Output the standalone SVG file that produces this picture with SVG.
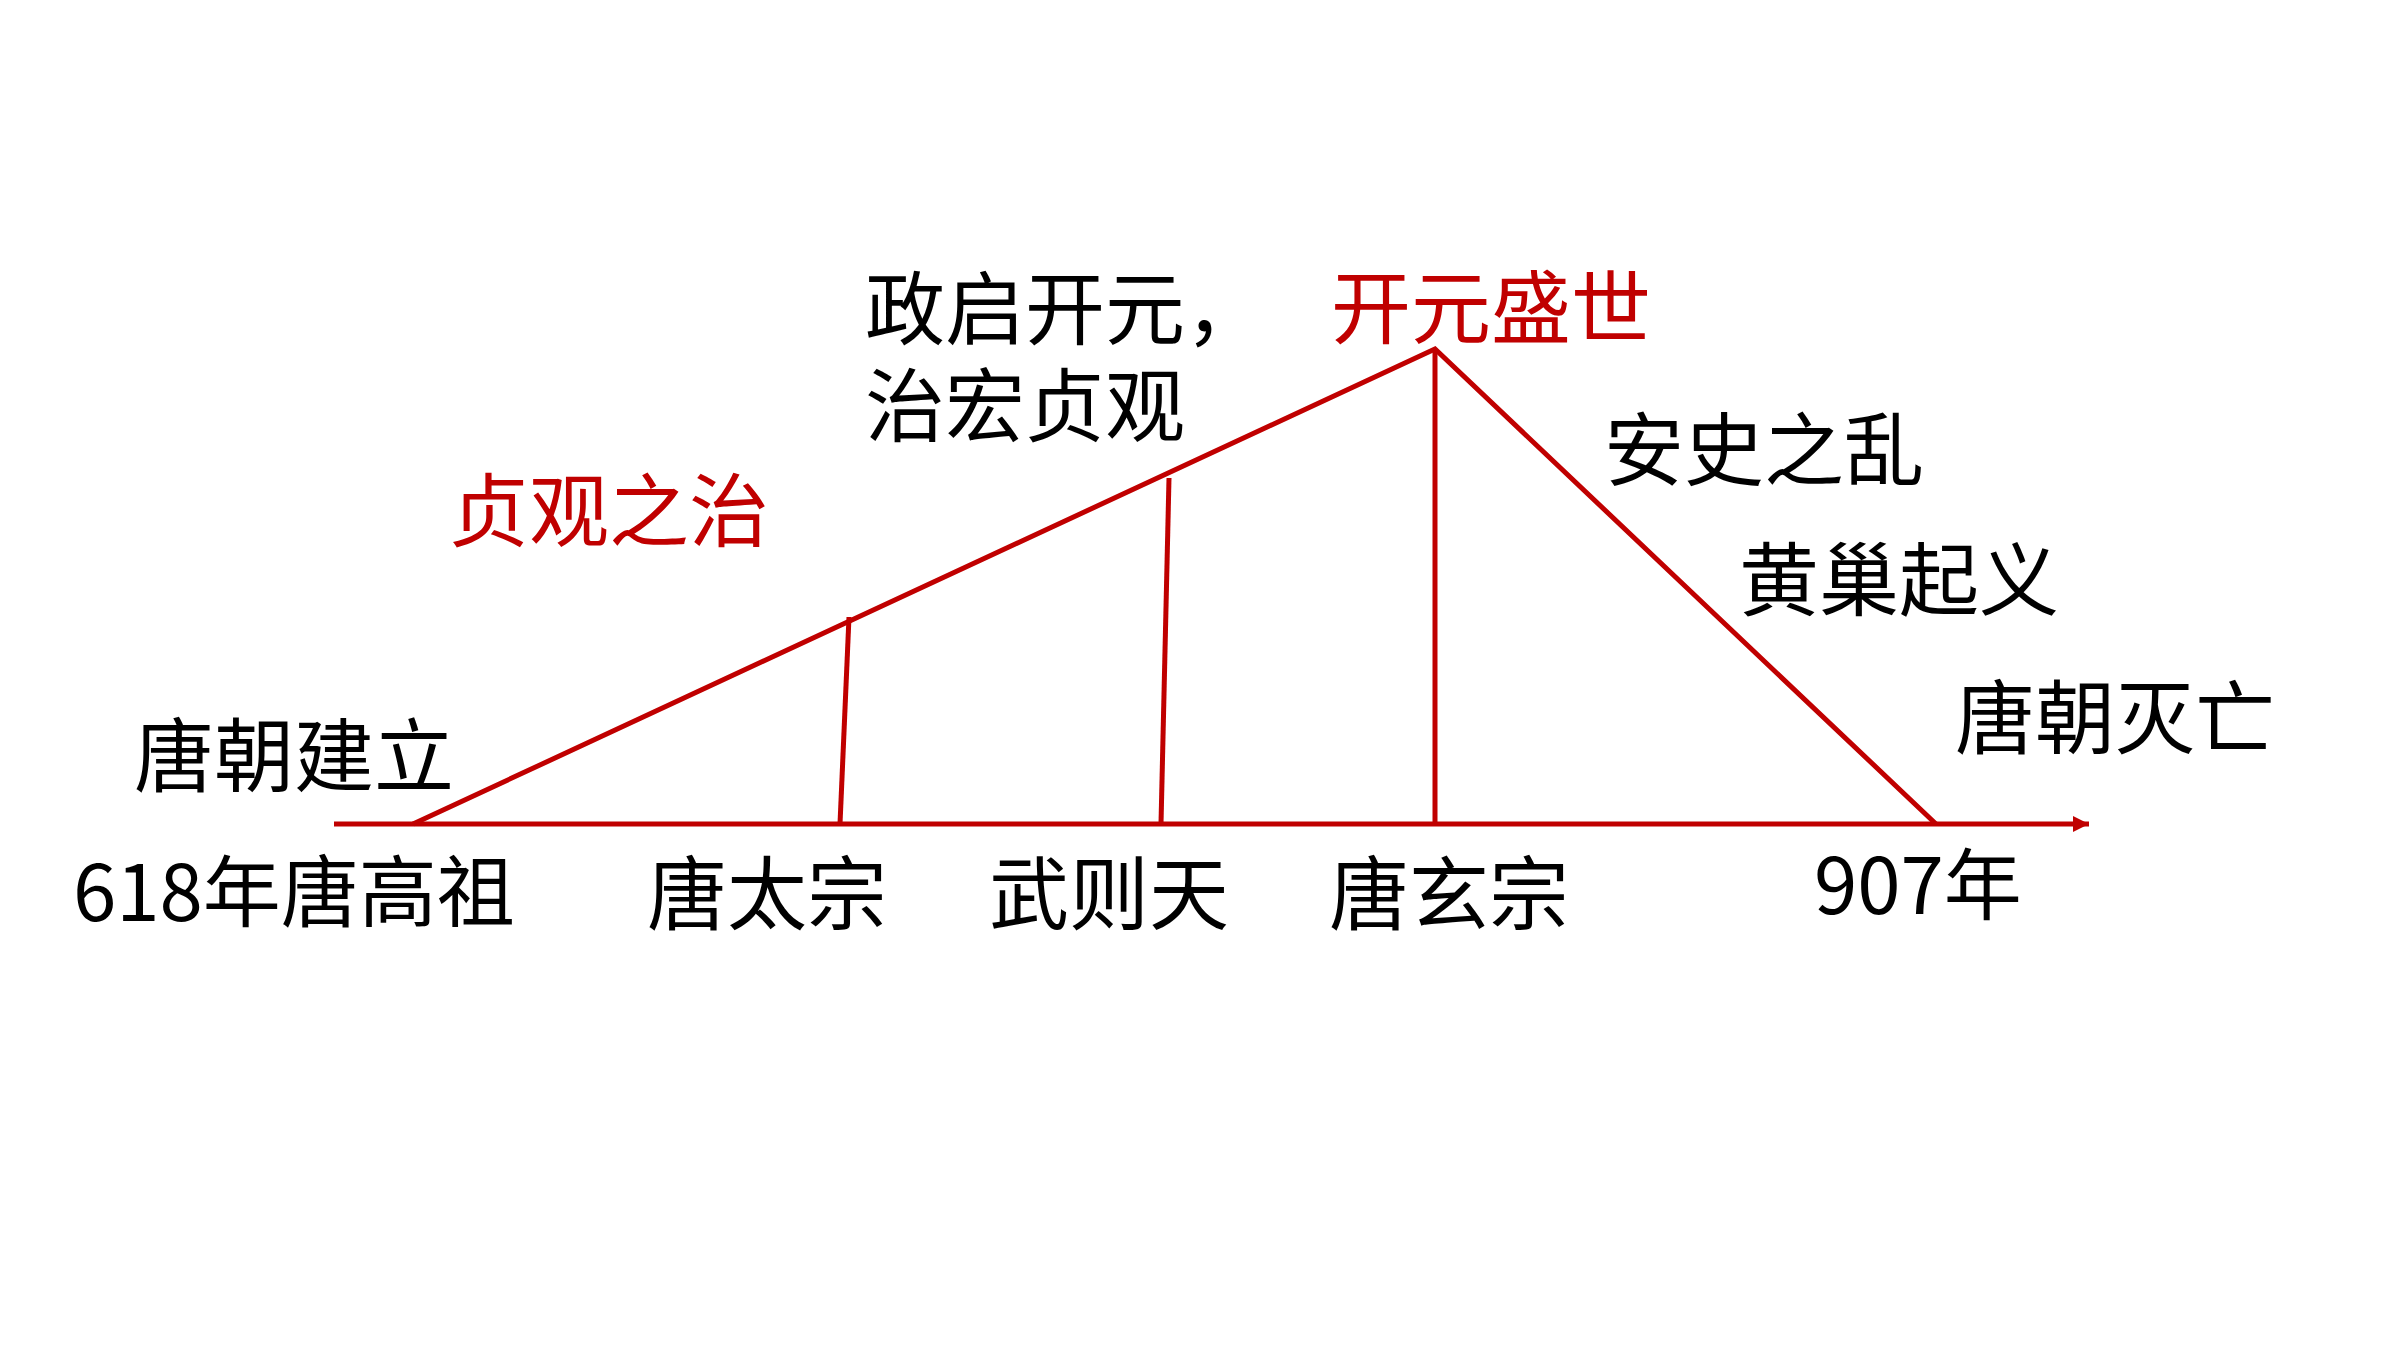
<svg xmlns="http://www.w3.org/2000/svg" width="2400" height="1350" viewBox="0 0 2400 1350">
<style>
.t{font-family:"Noto Sans CJK SC","Noto Sans",sans-serif;font-size:80px;fill:#000}
.s{font-size:78px}
.r{fill:#C00000}
.ln{stroke:#C00000;stroke-width:5;fill:none;stroke-linecap:butt}
</style>
<defs>
<marker id="ah" markerUnits="userSpaceOnUse" markerWidth="18" markerHeight="18" refX="16" refY="8" orient="auto">
<path d="M0,0 L16,8 L0,16 Z" fill="#C00000"/>
</marker>
</defs>
<rect width="2400" height="1350" fill="#fff"/>
<g id="connectors">
<line class="ln" x1="334" y1="824" x2="2089" y2="824" marker-end="url(#ah)"/>
<polyline class="ln" points="413,824 1435,349 1936,824"/>
<line class="ln" x1="840" y1="824" x2="849" y2="617"/>
<line class="ln" x1="1161" y1="824" x2="1169" y2="478"/>
<line class="ln" x1="1435" y1="824" x2="1435" y2="349"/>
</g>
<g id="n-tangjianli"><text class="t" x="134" y="785">唐朝建立</text></g>
<g id="n-618"><text class="t s" x="73" y="921">618年唐高祖</text></g>
<g id="n-taizong"><text class="t" x="647" y="923">唐太宗</text></g>
<g id="n-wuzetian"><text class="t" x="989" y="923">武则天</text></g>
<g id="n-xuanzong"><text class="t" x="1329" y="923">唐玄宗</text></g>
<g id="n-907"><text class="t s" x="1814" y="914">907年</text></g>
<g id="n-zhenguan"><text class="t r" x="449" y="540">贞观之治</text></g>
<g id="n-zhengqi"><text class="t"><tspan x="865" y="338">政启开元，</tspan><tspan x="865" y="435">治宏贞观</tspan></text></g>
<g id="n-kaiyuan"><text class="t r" x="1331" y="337">开元盛世</text></g>
<g id="n-anshi"><text class="t" x="1604" y="479">安史之乱</text></g>
<g id="n-huangchao"><text class="t" x="1739" y="609">黄巢起义</text></g>
<g id="n-mie"><text class="t" x="1955" y="747">唐朝灭亡</text></g>
</svg>
